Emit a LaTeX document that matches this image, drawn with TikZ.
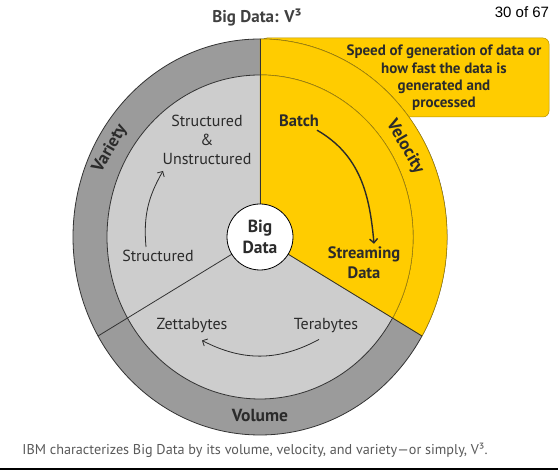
\documentclass[tikz,border=0pt]{standalone}
\usepackage{fontspec}
\setmainfont{PT Sans}
\newfontfamily\pagefont{Liberation Sans}
\usepackage{tikz}
\usetikzlibrary{positioning, arrows.meta}
\definecolor{vyellow}{HTML}{FFCC00}
\definecolor{ringgray}{HTML}{9B9B9B}
\definecolor{coregray}{HTML}{CDCDCD}
\definecolor{inktext}{HTML}{2B2B2B}

\begin{document}
\begin{tikzpicture}[x=1pt, y=1pt,
                lbl/.style={text=inktext, font=\fontsize{16}{19}\selectfont, inner sep=1pt},
                boldlbl/.style={lbl, font=\fontsize{16.5}{20}\selectfont\bfseries},
                ringlbl/.style={text=inktext, font=\fontsize{17.5}{20}\selectfont\bfseries, inner sep=1pt},
                edge/.style={draw=black!80, line width=0.8pt},
                yedge/.style={draw=vyellow!70!black, line width=0.5pt},
                flow/.style={-{Straight Barb[length=4pt, width=8pt]}, draw=inktext, line width=0.8pt}]
                \useasboundingbox (0,0) rectangle (558,470);
                \coordinate (c) at (260,233);
                \filldraw[fill=vyellow, yedge, rounded corners=6pt] (261,353) rectangle (549,432);
                \filldraw[fill=ringgray, edge] (c) ellipse [x radius=187pt, y radius=198pt];
                \filldraw[fill=vyellow, yedge] (c) -- ++(-30:187pt and 198pt)
                    arc[start angle=-30, end angle=90, x radius=187pt, y radius=198pt] -- cycle;
                \filldraw[fill=coregray, edge] (c) ellipse [x radius=153pt, y radius=162pt];
                \filldraw[fill=vyellow, yedge] (c) -- ++(-30:153pt and 162pt)
                    arc[start angle=-30, end angle=90, x radius=153pt, y radius=162pt] -- cycle;
                \foreach \a in {90,210,-30}{
                  \draw[edge] (c) -- ++(\a:187pt and 198pt);
                }
                \node[circle, draw=black, line width=0.8pt, fill=white, minimum size=66pt, inner sep=0pt,
                      align=center, text=inktext, font=\fontsize{17.5}{21}\selectfont\bfseries] (core) at (c) {Big\\Data};
                \node[lbl, align=center] (mixed) at (207,330) {Structured\\\&\\Unstructured};
                \node[lbl] (plain) at (158,214) {Structured};
                \node[boldlbl] (batch) at (299,349) {Batch};
                \node[boldlbl, align=center] (stream) at (364,207) {Streaming\\Data};
                \node[lbl] (zetta) at (192,144) {Zettabytes};
                \node[lbl] (tera) at (326,144) {Terabytes};
                \node[ringlbl, rotate=60] (variety) at (110,321) {Variety};
                \node[ringlbl, rotate=-60] (velocity) at (405,323) {Velocity};
                \node[ringlbl] (volume) at (260,54) {Volume};
                \draw[flow] ([xshift=-12pt, yshift=2pt]plain.north) to[out=95, in=240] ([xshift=-44pt, yshift=-5pt]mixed.south);
                \draw[flow, line width=1.4pt] ([xshift=18pt, yshift=-2pt]batch.south) to[out=-30, in=95] ([xshift=10pt, yshift=2pt]stream.north);
                \draw[flow] ([xshift=-7pt, yshift=-5pt]tera.south) to[bend left=28] ([xshift=10pt, yshift=-6pt]zetta.south);
                \node[text=inktext, align=center, font=\fontsize{15}{17.3}\selectfont\bfseries] (speed) at (444,392)
                      {Speed of generation of data or\\how fast the data is\\generated and\\processed};
                \node[text=black!75, font=\fontsize{17}{20}\selectfont\bfseries] (title) at (257,452) {Big Data: V³};
                \node[font=\pagefont\fontsize{15}{18}\selectfont] (page) at (522,458) {30 of 67};
                \node[text=black!65, font=\fontsize{14.2}{16}\selectfont] (caption) at (255,20)
                      {IBM characterizes Big Data by its volume, velocity, and variety—or simply, V³.};
                \draw[line width=1.2pt] (0,1) -- (558,1);
\end{tikzpicture}
\end{document}
